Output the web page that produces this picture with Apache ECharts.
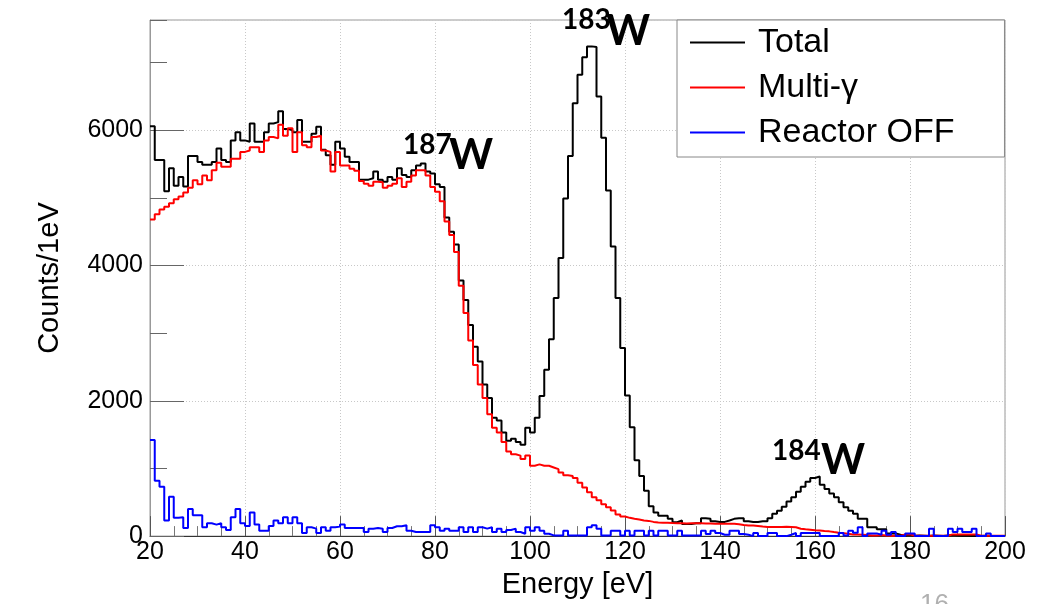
<!DOCTYPE html>
<html>
<head>
<meta charset="utf-8">
<script src="https://cdn.jsdelivr.net/npm/echarts@6/dist/echarts.min.js"></script>
<style>
  html, body { margin: 0; padding: 0; background: #fff; }
  #chart { width: 1060px; height: 604px; }
</style>
</head>
<body>
<div id="chart"></div>
<script>
// Histogram binning (1 eV bins from 20 to 200 eV)
const binStart = 20;
const binWidth = 1;

// Total (black), bins 20..199
const totalCounts = [
  6060,5560,5560,5100,5440,5180,5310,5170,5620,5620,
  5530,5490,5490,5530,5730,5560,5530,5850,5970,5850,
  5830,6100,5830,5830,5970,6100,6120,6280,6020,6000,
  5970,6150,5830,5830,5950,6050,5710,5630,5490,5830,
  5730,5610,5530,5530,5270,5270,5290,5390,5270,5240,
  5310,5270,5440,5340,5310,5410,5480,5510,5390,5360,
  5200,5160,4710,4500,4310,3780,3490,3120,2800,2580,
  2240,2040,1750,1710,1530,1410,1440,1390,1350,1600,
  1530,1750,2070,2460,2910,3520,4110,4990,5620,6400,
  6820,7080,7240,7230,6500,5890,5110,4280,3520,2780,
  2080,1610,1120,890,670,440,350,300,300,255,
  205,230,180,180,190,190,265,255,220,210,
  210,230,255,265,265,220,210,210,220,220,
  265,330,375,435,510,575,655,730,805,860,
  880,760,695,630,575,500,425,375,330,255,
  255,130,130,100,100,40,40,20,10,15,
  5,10,5,0,10,5,0,10,15,10,
  5,10,0,5,0,5,0,0,0,0
];

// Multi-gamma (red)
const multiGammaCounts = [
  4680,4760,4830,4870,4920,4980,5020,5080,5150,5260,
  5200,5330,5260,5410,5520,5460,5460,5580,5580,5680,
  5700,5750,5750,5680,5850,5900,5880,6080,5920,6030,
  5680,5970,5780,5750,5900,5920,5700,5680,5390,5680,
  5480,5480,5430,5400,5250,5210,5180,5240,5230,5150,
  5180,5210,5290,5160,5240,5330,5410,5410,5330,5160,
  5090,4950,4650,4450,4200,3700,3300,2890,2530,2240,
  2040,1800,1600,1530,1390,1250,1210,1190,1140,1190,
  1040,1060,1040,1040,1015,990,940,900,890,860,
  790,720,650,575,530,470,425,380,320,290,
  270,255,245,230,225,210,200,196,196,192,
  190,190,188,190,190,190,185,185,181,181,
  181,181,181,175,165,157,157,150,142,135,
  135,135,135,140,135,130,108,100,93,85,
  83,75,70,59,50,44,35,25,25,20,
  15,10,10,15,10,5,5,5,25,25,
  5,5,5,5,5,5,5,5,25,25,
  25,25,25,25,5,5,5,5,5,5
];

// Reactor OFF (blue)
const reactorOffCounts = [
  1420,820,730,230,580,270,280,120,400,310,
  310,130,190,170,190,130,90,280,400,190,
  150,350,170,80,80,150,230,190,280,190,
  280,190,45,130,110,45,130,80,130,140,
  170,120,120,120,120,60,110,120,110,60,
  120,145,145,160,80,60,60,60,60,160,
  130,80,110,80,80,130,60,130,60,130,
  110,130,60,110,60,90,110,60,35,130,
  80,130,80,35,10,10,10,80,10,10,
  10,10,130,160,110,10,10,80,80,10,
  80,10,80,80,10,80,10,80,80,10,
  10,80,10,10,10,10,80,30,80,45,
  20,20,80,80,30,20,0,45,0,0,
  45,45,0,0,20,45,0,45,45,45,
  45,0,0,0,0,45,10,80,50,130,
  0,40,40,20,80,20,60,0,0,40,
  40,0,0,0,110,0,0,0,110,60,
  110,60,60,110,0,0,40,0,0,0
];

const seriesNames = ['Total', 'Multi-\u03B3', 'Reactor OFF'];
const xTicks = { min: 20, max: 200, step: 20 };
const yTicks = { min: 0, max: 7630, step: 2000, minorStep: 1000 };

function toSteps(values) {
  const pts = values.map((v, i) => [binStart + i * binWidth, v]);
  pts.push([binStart + values.length * binWidth, values[values.length - 1]]);
  return pts;
}

const FONT = 'Liberation Sans, Arial, Helvetica, sans-serif';
const chart = echarts.init(document.getElementById('chart'), null, { renderer: 'canvas' });

const lineSeries = (name, values, color) => ({
  name, type: 'line', step: 'end', data: toSteps(values),
  showSymbol: false, symbol: 'none', color,
  lineStyle: { color, width: 2 }, itemStyle: { color },
  animation: false, xAxisIndex: 0, yAxisIndex: 0
});

chart.setOption({
  animation: false,
  backgroundColor: '#fff',
  grid: { left: 150, right: 55, top: 20, bottom: 65, show: true, borderColor: '#999', borderWidth: 1, backgroundColor: 'transparent' },
  legend: {
    left: 677, top: 20, orient: 'vertical',
    backgroundColor: '#fff', borderColor: '#888', borderWidth: 1,
    padding: [5, 50, 7, 13],
    itemWidth: 55, itemHeight: 2, itemGap: 10, icon: 'rect',
    textStyle: { fontSize: 34, fontFamily: FONT, color: '#000', padding: [0, 0, 0, 8], lineHeight: 35 },
    data: seriesNames
  },
  xAxis: {
    type: 'value', min: xTicks.min, max: xTicks.max, interval: xTicks.step,
    name: 'Energy [eV]', nameLocation: 'middle', nameGap: 29,
    nameTextStyle: { fontSize: 29, fontFamily: FONT, color: '#000' },
    axisLine: { show: true, lineStyle: { color: '#333', width: 1 } },
    axisTick: { show: true, inside: true, length: 20, lineStyle: { color: '#555' } },
    minorTick: { show: true, splitNumber: 4, length: 10, lineStyle: { color: '#777' } },
    axisLabel: { fontSize: 25, fontFamily: FONT, color: '#000', margin: 4 },
    splitLine: { show: true, lineStyle: { color: '#c8c8c8', type: [1, 2], width: 1 } }
  },
  yAxis: [
    {
      type: 'value', min: yTicks.min, max: yTicks.max, interval: yTicks.step,
      name: 'Counts/1eV', nameLocation: 'middle', nameGap: 86,
      nameTextStyle: { fontSize: 29, fontFamily: FONT, color: '#000' },
      axisLine: { show: true, lineStyle: { color: '#999', width: 1 } },
      axisTick: { show: true, inside: true, length: 34, lineStyle: { color: '#666' } },
      axisLabel: { fontSize: 25, fontFamily: FONT, color: '#000', margin: 7, showMaxLabel: false, formatter: v => String(v) },
      splitLine: { show: true, lineStyle: { color: '#c8c8c8', type: [1, 2], width: 1 } }
    },
    {
      type: 'value', min: yTicks.min, max: yTicks.max, interval: yTicks.minorStep, position: 'left',
      axisLine: { show: false },
      axisTick: { show: true, inside: true, length: 17, lineStyle: { color: '#666' } },
      axisLabel: { show: false },
      splitLine: { show: false }
    }
  ],
  series: [
    lineSeries(seriesNames[0], totalCounts, '#000000'),
    lineSeries(seriesNames[1], multiGammaCounts, '#ff0000'),
    lineSeries(seriesNames[2], reactorOffCounts, '#0000ff')
  ],
  graphic: [
    { type: 'text', x: 562, y: 20, z: 100, style: { text: '183', font: 'bold 28px Lato, sans-serif', fill: '#000', align: 'left', verticalAlign: 'middle' } },
    { type: 'text', x: 606, y: 31, z: 100, style: { text: 'W', font: 'bold 42px Lato, sans-serif', fill: '#000', align: 'left', verticalAlign: 'middle' } },
    { type: 'text', x: 403, y: 145, z: 100, style: { text: '187', font: 'bold 28px Lato, sans-serif', fill: '#000', align: 'left', verticalAlign: 'middle' } },
    { type: 'text', x: 449, y: 155, z: 100, style: { text: 'W', font: 'bold 42px Lato, sans-serif', fill: '#000', align: 'left', verticalAlign: 'middle' } },
    { type: 'text', x: 772, y: 451, z: 100, style: { text: '184', font: 'bold 28px Lato, sans-serif', fill: '#000', align: 'left', verticalAlign: 'middle' } },
    { type: 'text', x: 821, y: 460, z: 100, style: { text: 'W', font: 'bold 42px Lato, sans-serif', fill: '#000', align: 'left', verticalAlign: 'middle' } },
    { type: 'text', x: 920, y: 592, z: 100, style: { text: '16', font: '26px ' + FONT, fill: '#b0b0b0', align: 'left', verticalAlign: 'top' } }
  ]
});
</script>
</body>
</html>
